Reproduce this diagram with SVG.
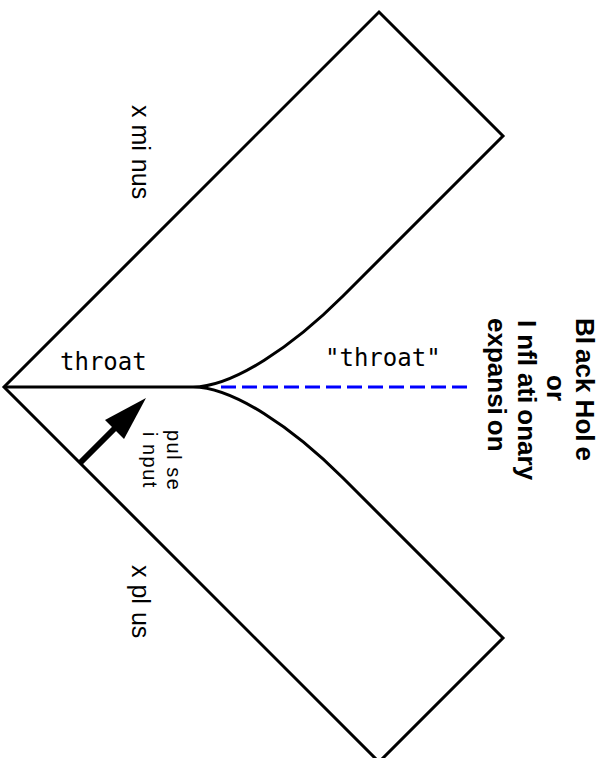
<svg xmlns="http://www.w3.org/2000/svg" width="603" height="758" viewBox="0 0 603 758">
<defs>
<style>
.ln{fill:none;stroke:#000;stroke-width:3;stroke-linejoin:miter}
.dash{fill:none;stroke:#0000ff;stroke-width:3;stroke-dasharray:15 6}
.mono{font-family:"DejaVu Sans Mono","Liberation Mono",monospace;font-size:24px;fill:#000}
.lab{font-family:"Liberation Sans",Arial,sans-serif;font-size:25px;fill:#000}
.small{font-family:"Liberation Sans",Arial,sans-serif;font-size:20px;letter-spacing:1.5px;fill:#000}
.bold{font-family:"Liberation Sans",Arial,sans-serif;font-size:26px;font-weight:bold;fill:#000}
</style>
</defs>
<rect width="603" height="758" fill="#fff"/>
<g id="spacetime">
<path class="ln" d="M379,12 L503,136 L343,296 C293,346 233,387 193,387 C233,387 293,428 343,478 L503,638 L379,762 L4,387 Z"/>
</g>
<g id="connectors">
<path class="ln" d="M4,387 L193,387"/>
<path class="dash" d="M221,387 L472,387"/>
<line x1="80" y1="463" x2="118" y2="425" stroke="#000" stroke-width="6"/>
<polygon points="146,398 105,420 124,439" fill="#000"/>
</g>
<g id="labels">
<text class="mono" x="60" y="370">throat</text>
<text class="mono" x="325" y="366">"throat"</text>
<text class="lab" transform="translate(132,105) rotate(90)">x mi<tspan dx="8">nus</tspan></text>
<text class="lab" transform="translate(132,565) rotate(90)">x pl<tspan dx="8">us</tspan></text>
<text class="small" transform="translate(167,430) rotate(90)">pul<tspan dx="6">se</tspan></text>
<text class="small" transform="translate(143,432) rotate(90)">i<tspan dx="6">nput</tspan></text>
</g>
<g id="title">
<text class="bold" transform="translate(576,318) rotate(90)">Bl<tspan dx="5">ack Hol</tspan><tspan dx="5">e</tspan></text>
<text class="bold" transform="translate(547,375) rotate(90)">or</text>
<text class="bold" transform="translate(518,320) rotate(90)">I<tspan dx="7">nfl</tspan><tspan dx="7">ati</tspan><tspan dx="6">onary</tspan></text>
<text class="bold" transform="translate(488,318) rotate(90)">expansi<tspan dx="5">on</tspan></text>
</g>
</svg>
